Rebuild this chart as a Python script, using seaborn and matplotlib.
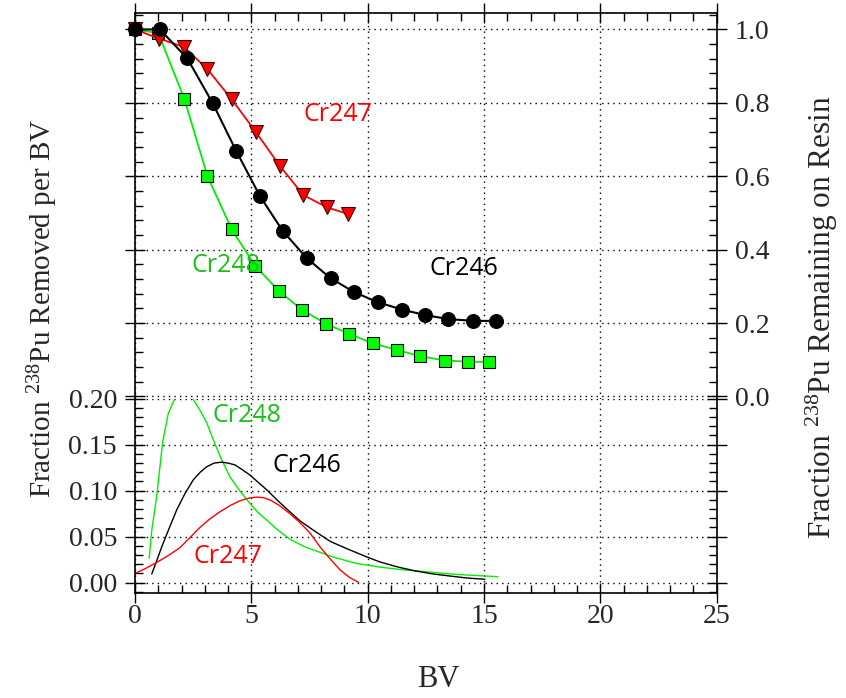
import numpy as np
import pandas as pd
import matplotlib
matplotlib.use("Agg")
import matplotlib.pyplot as plt
import seaborn as sns
from matplotlib import font_manager
from matplotlib.ticker import MultipleLocator

# top panel: fraction remaining on resin
bv_246 = [0, 1.07, 2.25, 3.34, 4.34, 5.37, 6.35, 7.38, 8.41, 9.43, 10.43, 11.46, 12.46, 13.46, 14.54, 15.51]
rem_246 = [1.0, 1.0, 0.921, 0.799, 0.670, 0.546, 0.451, 0.377, 0.322, 0.284, 0.257, 0.237, 0.222, 0.211, 0.206, 0.206]

bv_247 = [0, 1.04, 2.11, 3.11, 4.15, 5.19, 6.23, 7.23, 8.26, 9.17]
rem_247 = [1.0, 0.975, 0.952, 0.892, 0.810, 0.721, 0.628, 0.549, 0.515, 0.497]

bv_248 = [0, 1.0, 2.12, 3.11, 4.15, 5.16, 6.19, 7.16, 8.21, 9.2, 10.21, 11.24, 12.25, 13.32, 14.32, 15.23]
rem_248 = [1.0, 0.99, 0.811, 0.601, 0.456, 0.356, 0.287, 0.237, 0.198, 0.171, 0.145, 0.127, 0.110, 0.098, 0.095, 0.094]

# bottom panel: fraction removed per BV
cx_246 = [0.72, 0.95, 1.15, 1.45, 1.79, 2.15, 2.51, 2.8, 3.08, 3.4, 3.72, 4.0, 4.3, 4.6, 4.94, 5.3, 5.66,
          6.1, 6.66, 7.1, 7.67, 8.38, 9.1, 9.96, 10.53, 11.3, 12.0, 12.8, 13.54, 14.3, 15.04]
cy_246 = [0.0095, 0.025, 0.039, 0.058, 0.079, 0.097, 0.112, 0.120, 0.126, 0.130, 0.131, 0.130, 0.128, 0.123,
          0.117, 0.109, 0.101, 0.090, 0.077, 0.067, 0.057, 0.045, 0.037, 0.028, 0.0225, 0.017, 0.013, 0.0095,
          0.0072, 0.005, 0.0037]

cx_247 = [0, 0.5, 0.93, 1.4, 1.93, 2.4, 2.79, 3.2, 3.65, 4.1, 4.51, 4.9, 5.23, 5.5, 5.8, 6.2, 6.66, 7.1,
          7.52, 7.95, 8.38, 8.81, 9.2, 9.6]
cy_247 = [0.010, 0.016, 0.022, 0.029, 0.038, 0.050, 0.060, 0.069, 0.077, 0.084, 0.089, 0.092, 0.093, 0.0925,
          0.090, 0.084, 0.075, 0.065, 0.054, 0.039, 0.026, 0.014, 0.006, 0.0004]

cx_248 = [0.61, 0.72, 0.93, 1.19, 1.43, 1.69, 1.9, 2.1, 2.3, 2.51, 2.8, 3.08, 3.37, 3.7, 4.08, 4.5, 4.94,
          5.3, 5.66, 6.1, 6.67, 7.3, 7.95, 8.5, 9.5, 10.5, 11.5, 12.5, 13.5, 14.5, 15.6]
cy_248 = [0.0265, 0.057, 0.0935, 0.153, 0.184, 0.199, 0.209, 0.213, 0.209, 0.199, 0.187, 0.174, 0.155, 0.135,
          0.115, 0.100, 0.086, 0.076, 0.068, 0.058, 0.047, 0.039, 0.033, 0.028, 0.021, 0.017, 0.014, 0.012,
          0.0095, 0.008, 0.0065]

green = "#00ee00"
green_txt = "#18c018"

installed = {f.name for f in font_manager.fontManager.ttflist}
serif = next((n for n in ["Liberation Serif", "Times New Roman", "STIXGeneral"] if n in installed), "serif")
sans = next((n for n in ["Open Sans", "Noto Sans", "DejaVu Sans"] if n in installed), "sans-serif")

sns.set_style("white")
plt.rcParams["font.family"] = [serif, "STIXGeneral", "DejaVu Serif"]
plt.rcParams["mathtext.fontset"] = "custom"
plt.rcParams["mathtext.rm"] = serif
plt.rcParams["mathtext.default"] = "regular"

fig = plt.figure(figsize=(8.46, 6.98), dpi=100)
W, H = 846, 698
x0, x1 = 135, 716.7
ax_top = fig.add_axes([x0 / W, 1 - 398.7 / H, (x1 - x0) / W, (398.7 - 13.3) / H])
ax_bot = fig.add_axes([x0 / W, 1 - 592.7 / H, (x1 - x0) / W, (592.7 - 398.7) / H])
for a in (ax_top, ax_bot):
    a.patch.set_alpha(0)

# top panel
sns.lineplot(x=bv_248, y=rem_248, ax=ax_top, color=green, lw=1.3, marker="s", ms=8,
             mfc="#00ff00", mec="black", mew=0.8, sort=False, estimator=None, clip_on=False)
sns.lineplot(x=bv_247, y=rem_247, ax=ax_top, color="red", lw=1.3, marker="v", ms=9.5,
             mfc="red", mec="#400000", mew=0.8, sort=False, estimator=None, clip_on=False)
sns.lineplot(x=bv_246, y=rem_246, ax=ax_top, color="black", lw=1.5, marker="o", ms=10,
             mfc="black", mec="black", sort=False, estimator=None, clip_on=False)

ax_top.set_xlim(0, 25)
ax_top.set_ylim(-0.006, 1.044)
ax_top.spines["bottom"].set_visible(False)
ax_top.yaxis.tick_right()
ax_top.yaxis.set_ticks_position("both")
ax_top.xaxis.set_ticks_position("top")
ax_top.set_yticks([0.0, 0.2, 0.4, 0.6, 0.8, 1.0])
ax_top.set_yticklabels(["0.0", "0.2", "0.4", "0.6", "0.8", "1.0"])
ax_top.yaxis.set_minor_locator(MultipleLocator(0.04))
ax_top.xaxis.set_major_locator(MultipleLocator(5))
ax_top.xaxis.set_minor_locator(MultipleLocator(1))
ax_top.tick_params(axis="x", which="both", labeltop=False, labelbottom=False)
ax_top.tick_params(axis="y", which="both", labelleft=False, labelright=True)

ax_top.text(8.72, 0.767, "Cr247", color="red", fontsize=18, family=sans, ha="center", va="center")
ax_top.text(14.14, 0.349, "Cr246", color="black", fontsize=18, family=sans, ha="center", va="center")
ax_top.text(3.92, 0.357, "Cr248", color=green_txt, fontsize=18, family=sans, ha="center", va="center")

# bottom panel
sns.lineplot(x=cx_248, y=cy_248, ax=ax_bot, color=green, lw=1.0, sort=False, estimator=None)
sns.lineplot(x=cx_246, y=cy_246, ax=ax_bot, color="black", lw=1.0, sort=False, estimator=None)
sns.lineplot(x=cx_247, y=cy_247, ax=ax_bot, color="red", lw=1.0, sort=False, estimator=None)

ax_bot.set_xlim(0, 25)
ax_bot.set_ylim(-0.0109, 0.20)
ax_bot.spines["top"].set_visible(False)
ax_bot.yaxis.set_ticks_position("both")
ax_bot.xaxis.set_ticks_position("bottom")
ax_bot.set_yticks([0.0, 0.05, 0.10, 0.15, 0.20])
ax_bot.set_yticklabels(["0.00", "0.05", "0.10", "0.15", "0.20"])
ax_bot.yaxis.set_minor_locator(MultipleLocator(0.01))
ax_bot.xaxis.set_minor_locator(MultipleLocator(1))
ax_bot.set_xticks([0, 5, 10, 15, 20, 25])
ax_bot.set_xticklabels(["0", "5", "10", "15", "20", "25"])

ax_bot.text(4.83, 0.1815, "Cr248", color=green_txt, fontsize=18, family=sans, ha="center", va="center")
ax_bot.text(7.39, 0.127, "Cr246", color="black", fontsize=18, family=sans, ha="center", va="center")
ax_bot.text(4.01, 0.028, "Cr247", color="red", fontsize=18, family=sans, ha="center", va="center")

for a in (ax_top, ax_bot):
    a.grid(True, which="major", color="black", ls=(0, (1, 3)), lw=1.0)
    a.set_xlabel("")
    a.set_ylabel("")
    for s in a.spines.values():
        s.set_color("black")
        s.set_linewidth(1.2)
    a.tick_params(which="major", direction="inout", length=14, width=1.0, labelsize=20, pad=6, color="black")
    a.tick_params(which="minor", direction="in", length=6, width=1.0, color="black")
ax_bot.tick_params(axis="x", pad=1)

fig.text(0.518, 0.026, "BV", fontsize=22, ha="center", va="center")
fig.text(0.051, 0.558, "Fraction $^{238}$Pu Removed per BV", fontsize=21, rotation=90, ha="center", va="center")
fig.text(0.972, 0.545, "Fraction $^{238}$Pu Remaining on Resin", fontsize=22.5, rotation=90, ha="center", va="center")

fig.savefig("out.png", dpi=100)
